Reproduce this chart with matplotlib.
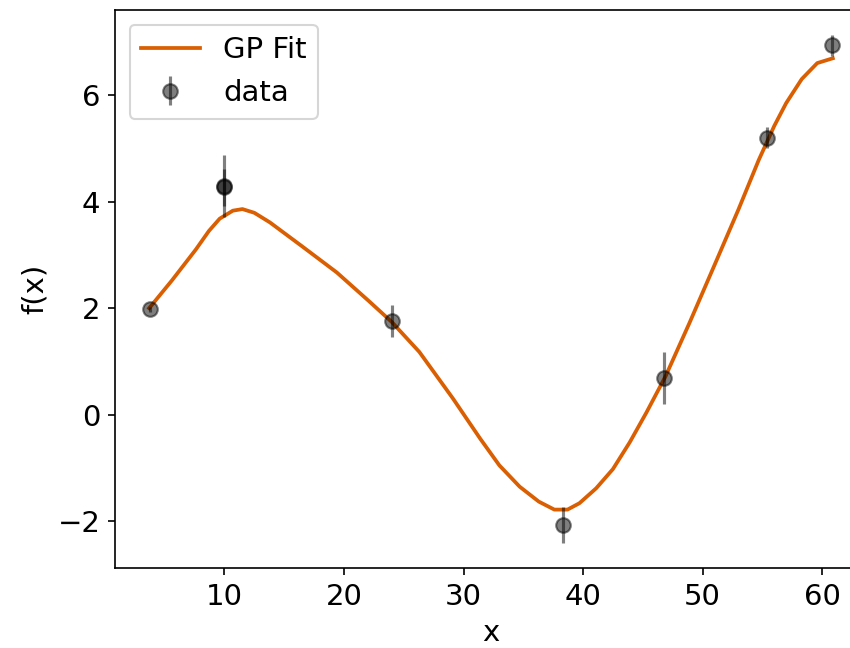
import matplotlib
matplotlib.use("Agg")
import matplotlib.pyplot as plt
import numpy as np

# observed points (x, f(x), error)
data_x = [3.73, 10.0, 10.0, 24.0, 38.3, 46.8, 55.4, 60.84]
data_y = [1.98, 4.30, 4.27, 1.76, -2.07, 0.69, 5.20, 6.93]
data_err = [0.05, 0.58, 0.35, 0.30, 0.33, 0.49, 0.20, 0.19]

# GP mean
fit_x = [3.7, 5.6, 7.6, 8.7, 9.6, 10.7, 11.5, 12.5, 13.8, 16.5, 19.4, 22.1, 24.0,
         26.3, 29.1, 31.4, 33.0, 34.7, 36.3, 37.6, 38.7, 39.7, 41.1, 42.5,
         43.9, 45.3, 46.9, 48.9, 51.1, 53.0, 54.7, 56.0, 57.0, 58.3, 59.6, 60.9]
fit_y = [2.0, 2.52, 3.1, 3.45, 3.68, 3.83, 3.86, 3.79, 3.61, 3.16, 2.67, 2.13, 1.74,
         1.18, 0.31, -0.45, -0.95, -1.35, -1.63, -1.78, -1.78, -1.66, -1.38, -1.02,
         -0.52, 0.04, 0.72, 1.72, 2.86, 3.85, 4.78, 5.42, 5.85, 6.30, 6.60, 6.69]

plt.rcParams['font.size'] = 14

fig = plt.figure(figsize=(850 / 150, 648 / 150), dpi=150)
ax = fig.add_axes([115 / 850, 80 / 648, 752 / 850, 558 / 648])

ax.plot(fit_x, fit_y, color='#d95f02', lw=1.8, label='GP Fit')
ax.errorbar(data_x, data_y, yerr=data_err, fmt='o', color='k', alpha=0.5,
            ms=7, elinewidth=1.5, label='data')

ax.set_xlabel('x')
ax.set_ylabel('f(x)')
ax.set_yticks([-2, 0, 2, 4, 6])
ax.legend(loc='upper left')

fig.savefig('out.png', dpi=150)
